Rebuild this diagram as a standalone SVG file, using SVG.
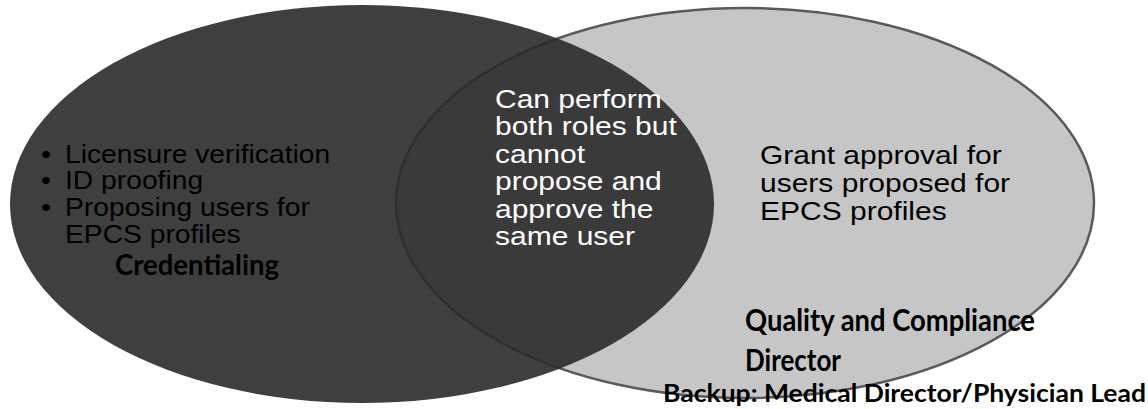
<svg xmlns="http://www.w3.org/2000/svg" width="1148" height="409" viewBox="0 0 1148 409">
  <style>
    .body { font-family: "Liberation Sans", Arial, sans-serif; font-size: 25px; }
    .dark { fill: #000000; }
    .light { fill: #ffffff; }
    .title { font-family: Lato, "Open Sans", sans-serif; font-weight: 700; fill: #000000; }
  </style>
  <rect width="1148" height="409" fill="#ffffff"/>

  <!-- Approver set (drawn beneath) -->
  <g id="approver">
    <ellipse cx="745" cy="203" rx="349" ry="195" fill="#c6c6c6" stroke="#5a5a5a" stroke-width="2.5"/>
  </g>

  <!-- Credentialing set (drawn on top, slightly translucent) -->
  <g id="credentialing">
    <ellipse cx="362" cy="204" rx="352" ry="199" fill="#2a2a2a" fill-opacity="0.9"/>
    <g class="body dark" transform="translate(41,0) scale(1.15,1)">
      <text x="0" y="163">•</text>
      <text x="0" y="189">•</text>
      <text x="0" y="216">•</text>
    </g>
    <g class="body dark" transform="translate(65,0) scale(1.13,1)">
      <text x="0" y="163">Licensure verification</text>
      <text x="0" y="189">ID proofing</text>
      <text x="0" y="216">Proposing users for</text>
      <text x="0" y="243">EPCS profiles</text>
    </g>
    <text class="title" x="115" y="275" font-size="28" textLength="164" lengthAdjust="spacingAndGlyphs">Credentialing</text>
  </g>

  <!-- Shared region -->
  <g id="overlap" class="body light" transform="translate(495,0) scale(1.2,1)">
    <text x="0" y="108">Can perform</text>
    <text x="0" y="135">both roles but</text>
    <text x="0" y="163">cannot</text>
    <text x="0" y="190">propose and</text>
    <text x="0" y="218">approve the</text>
    <text x="0" y="245">same user</text>
  </g>

  <!-- Approver labels -->
  <g id="approver-labels">
    <g class="body dark" transform="translate(760,0) scale(1.2,1)">
      <text x="0" y="164">Grant approval for</text>
      <text x="0" y="192">users proposed for</text>
      <text x="0" y="220">EPCS profiles</text>
    </g>
    <text class="title" x="745" y="331" font-size="30" textLength="290" lengthAdjust="spacingAndGlyphs">Quality and Compliance</text>
    <text class="title" x="745" y="371" font-size="30" textLength="96" lengthAdjust="spacingAndGlyphs">Director</text>
    <text class="title" x="663" y="402" font-size="25" textLength="483" lengthAdjust="spacingAndGlyphs">Backup: Medical Director/Physician Lead</text>
  </g>
</svg>
